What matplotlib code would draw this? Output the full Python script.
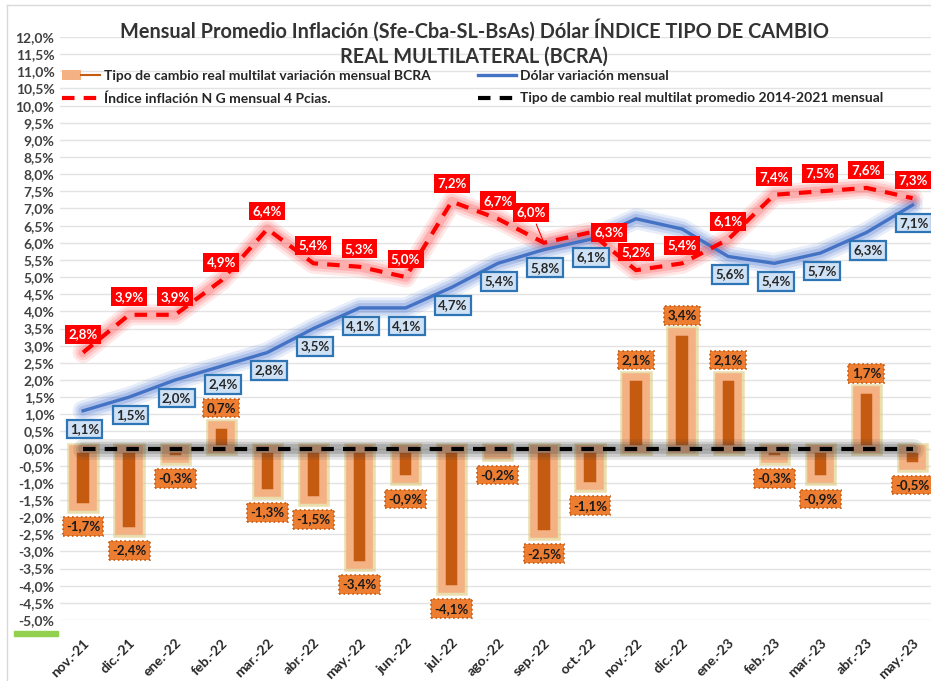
import matplotlib
matplotlib.use('Agg')
import matplotlib.pyplot as plt
import numpy as np
from matplotlib.lines import Line2D
from matplotlib.patches import Patch, Rectangle
from matplotlib.legend_handler import HandlerTuple

plt.rcParams['font.family'] = ['Lato', 'DejaVu Sans']

# Data (percent, monthly)
months = ['nov.-21', 'dic.-21', 'ene.-22', 'feb.-22', 'mar.-22', 'abr.-22', 'may.-22',
          'jun.-22', 'jul.-22', 'ago.-22', 'sep.-22', 'oct.-22', 'nov.-22', 'dic.-22',
          'ene.-23', 'feb.-23', 'mar.-23', 'abr.-23', 'may.-23']
tcrm_var = [-1.7, -2.4, -0.3, 0.7, -1.3, -1.5, -3.4, -0.9, -4.1, -0.2, -2.5, -1.1,
            2.1, 3.4, 2.1, -0.3, -0.9, 1.7, -0.5]
dolar_var = [1.1, 1.5, 2.0, 2.4, 2.8, 3.5, 4.1, 4.1, 4.7, 5.4, 5.8, 6.1,
             6.7, 6.4, 5.6, 5.4, 5.7, 6.3, 7.1]
inflacion = [2.8, 3.9, 3.9, 4.9, 6.4, 5.4, 5.3, 5.0, 7.2, 6.7, 6.0, 6.3,
             5.2, 5.4, 6.1, 7.4, 7.5, 7.6, 7.3]
tcrm_prom = [0.0] * len(months)
# dollar labels not shown in the original (hidden behind the inflation ones)
dolar_sin_etiqueta = {12, 13}

def pct(v):
    return f"{v:.1f}%".replace('.', ',')

x = np.arange(len(months))

fig = plt.figure(figsize=(9.31, 6.81), dpi=100)
W, H = 931, 681
ax = fig.add_axes([60 / W, (H - 620) / H, 1 - 60 / W, (620 - 37) / H])

ax.set_xlim(-0.5, 18.4)
ax.set_ylim(-5, 12)
ax.set_yticks(np.arange(-5, 12.01, 0.5))
ax.set_yticklabels([pct(v) for v in np.arange(-5, 12.01, 0.5)])
ax.grid(axis='y', color='#e3e3e3', linewidth=1)
ax.set_axisbelow(True)
for s in ax.spines.values():
    s.set_visible(False)
ax.tick_params(axis='y', length=0, pad=4, labelsize=10, labelcolor='#404040')
ax.set_xticks(x)
ax.set_xticklabels(months, rotation=45, ha='right', rotation_mode='anchor',
                   fontsize=10, fontweight='bold', color='#262626')
ax.tick_params(axis='x', length=0, pad=12)
for lbl in ax.get_yticklabels():
    lbl.set_fontweight('bold')

# bars with glow
ax.bar(x, tcrm_var, width=0.42, color='none', edgecolor='#dcc878',
       linewidth=9, alpha=0.6, zorder=1)
ax.bar(x, tcrm_var, width=0.42, color='#c55a11', edgecolor='#f4b183',
       linewidth=5.4, zorder=2)

# glow for lines
for lw, a in [(15, 0.12), (11, 0.16), (7, 0.22)]:
    ax.plot(x, dolar_var, color='#3f6fd0', linewidth=lw, alpha=a,
            solid_capstyle='round', zorder=3)
    ax.plot(x, inflacion, color='#ff3030', linewidth=lw, alpha=a * 0.9,
            solid_capstyle='round', zorder=3)
    ax.plot(x, tcrm_prom, color='#404040', linewidth=lw, alpha=a,
            solid_capstyle='round', zorder=3)

ax.plot(x, dolar_var, color='#4472c4', linewidth=2.4, zorder=4)
ax.plot(x, inflacion, color='#ff0000', linewidth=3, dashes=(3, 2.2), zorder=5)
ax.plot(x, tcrm_prom, color='black', linewidth=3, dashes=(3, 2.2), zorder=5)

# labels
blue_box = dict(boxstyle='square,pad=0.25', facecolor='#cfe1f5', edgecolor='#2e75b6', linewidth=1.6)
red_box = dict(boxstyle='square,pad=0.25', facecolor='#ff0000', edgecolor='none')
orange_box = dict(boxstyle='square,pad=0.25', facecolor='#ed7d31', edgecolor='#c55a11',
                  linewidth=1.2, linestyle=':')

for i, v in enumerate(dolar_var):
    if i in dolar_sin_etiqueta:
        continue
    ax.annotate(pct(v), (i, v), xytext=(1, -13), textcoords='offset points',
                ha='center', va='center', fontsize=9.5, fontweight='bold',
                color='#262626', bbox=blue_box, zorder=6)

for i, v in enumerate(tcrm_var):
    dy = 12 if v > 0 else -14
    ax.annotate(pct(v), (i, v), xytext=(0, dy), textcoords='offset points',
                ha='center', va='center', fontsize=9.5, fontweight='bold',
                color='#1a1a1a', bbox=orange_box, zorder=7)

red_offsets = {10: (-9, 22), 11: (14, 0)}
for i, v in enumerate(inflacion):
    dx, dy = red_offsets.get(i, (0, 13))
    kw = {}
    if i == 10:
        kw['arrowprops'] = dict(arrowstyle='-', color='#ff0000', linewidth=0.8)
    ax.annotate(pct(v), (i, v), xytext=(dx, dy), textcoords='offset points',
                ha='center', va='center', fontsize=9.5, fontweight='bold',
                color='white', bbox=red_box, zorder=8, **kw)

# title
fig.text(474 / W, 1 - 30 / H, 'Mensual Promedio Inflación (Sfe-Cba-SL-BsAs) Dólar ÍNDICE TIPO DE CAMBIO',
         ha='center', va='center', fontsize=14.3, fontweight='bold', color='#333333')
fig.text(474 / W, 1 - 57 / H, 'REAL MULTILATERAL (BCRA)',
         ha='center', va='center', fontsize=14.3, fontweight='bold', color='#333333')

# legends
h_orange = (Patch(facecolor='#f4b183', edgecolor='none'),
            Line2D([], [], color='#c55a11', linewidth=1.5))
h_red = Line2D([], [], color='#ff0000', linewidth=3, dashes=(3, 2.2))
h_blue = Line2D([], [], color='#4472c4', linewidth=2.4)
h_black = Line2D([], [], color='black', linewidth=3, dashes=(3, 2.2))
leg_kw = dict(frameon=False, loc='upper left', borderpad=0, borderaxespad=0,
              handlelength=2.7, handletextpad=0.3, labelspacing=0.75,
              prop={'size': 10, 'weight': 'bold'},
              handler_map={tuple: HandlerTuple(ndivide=None, pad=0)})
leg1 = fig.legend([h_orange, h_red],
                  ['Tipo de cambio real multilat variación mensual BCRA',
                   'Índice inflación N G mensual 4 Pcias.'],
                  bbox_to_anchor=(62 / W, 1 - 70 / H), **leg_kw)
for t in leg1.get_texts():
    t.set_color('#262626')
leg2 = fig.legend([h_blue, h_black],
                  ['Dólar variación mensual',
                   'Tipo de cambio real multilat promedio 2014-2021 mensual'],
                  bbox_to_anchor=(478 / W, 1 - 70 / H), **leg_kw)
for t in leg2.get_texts():
    t.set_color('#262626')

# chart border and small green mark
fig.add_artist(Line2D([7 / W, 7 / W], [0, 1 - 5 / H], color='#d9d9d9', linewidth=1))
fig.add_artist(Line2D([7 / W, 1], [1 - 5 / H, 1 - 5 / H], color='#d9d9d9', linewidth=1))
fig.add_artist(Rectangle((14 / W, 1 - 636 / H), 44 / W, 5 / H,
                         transform=fig.transFigure, color='#92d050'))

fig.savefig('out.png', dpi=100)
